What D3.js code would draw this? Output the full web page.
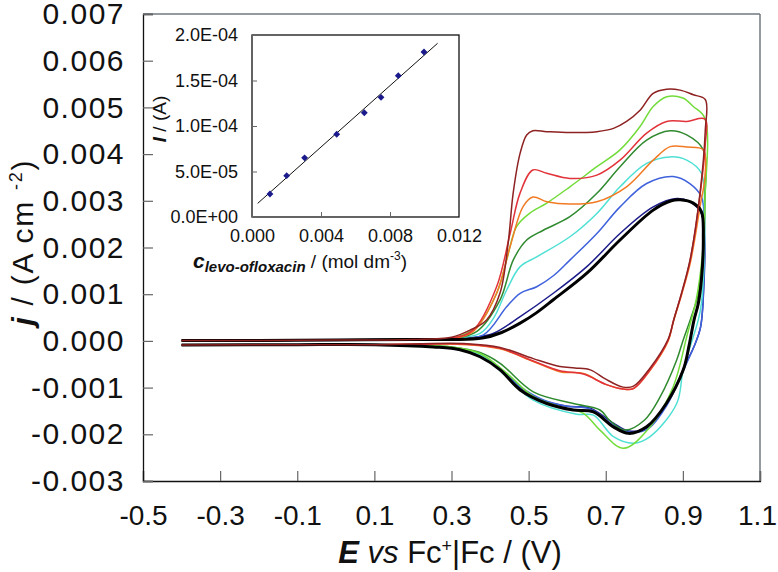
<!DOCTYPE html>
<html>
<head>
<meta charset="utf-8">
<script src="https://cdn.jsdelivr.net/npm/d3@7"></script>
<style>
  html, body { margin: 0; padding: 0; background: #fff; }
  svg text { font-family: "Liberation Sans", Arial, Helvetica, sans-serif; }
</style>
</head>
<body>
<svg id="chart" width="778" height="572"></svg>
<script>
// ---------------- DATA ----------------
const xTicks = [-0.5, -0.3, -0.1, 0.1, 0.3, 0.5, 0.7, 0.9, 1.1];
const xTickLabels = ["-0.5", "-0.3", "-0.1", "0.1", "0.3", "0.5", "0.7", "0.9", "1.1"];
const yTicks = [-0.003, -0.002, -0.001, 0.000, 0.001, 0.002, 0.003, 0.004, 0.005, 0.006, 0.007];
const yTickLabels = ["-0.003", "-0.002", "-0.001", "0.000", "0.001", "0.002", "0.003", "0.004", "0.005", "0.006", "0.007"];

const seriesNames  = ["blank", "c1", "c2", "c3", "c4", "c5", "c6", "c7", "c8"];
const seriesColors = ["#000000", "#1c1c8a", "#3f62dc", "#4fe0d4", "#2f8a2f", "#72dc3a", "#f27a22", "#e2333a", "#8e2222"];

// common low-potential part (forward start / reverse end)
const baseForward = [[-0.4, 0.00001], [-0.2, 0.00001], [0.0, 0.00002], [0.2, 0.00003]];
const baseReverse = [[0.1, -0.00008], [-0.1, -0.00008], [-0.4, -0.00009]];

const fwdBlank = [[0.3,0.00003],[0.38,0.00006],[0.43,0.00018],[0.478,0.00038],[0.52,0.0006],[0.564,0.00088],[0.651,0.00145],[0.737,0.00216],[0.823,0.0028],[0.87,0.003],[0.893,0.00302],[0.927,0.00295],[0.948,0.00277]];
const revBlank = [[0.953,0.0022],[0.948,0.0013],[0.94,0.0008],[0.929,0.00045],[0.916,-0.0001],[0.901,-0.00062],[0.857,-0.00134],[0.806,-0.00184],[0.759,-0.00198],[0.72,-0.00184],[0.668,-0.00152],[0.616,-0.00148],[0.547,-0.00134],[0.478,-0.00105],[0.426,-0.00062],[0.374,-0.00034],[0.322,-0.00019],[0.253,-0.00013]];

const fwdC1 = [[0.3,0.00004],[0.36,0.00008],[0.408,0.00016],[0.478,0.00052],[0.564,0.00102],[0.651,0.00159],[0.737,0.0023],[0.823,0.00287],[0.884,0.00305],[0.918,0.00298],[0.948,0.00273]];
const revC1 = [[0.956,0.0022],[0.954,0.0011],[0.946,0.0003],[0.93,-0.0001],[0.91,-0.00045],[0.857,-0.00137],[0.81,-0.00185],[0.76,-0.00193],[0.72,-0.00176],[0.66,-0.00144],[0.6,-0.0014],[0.54,-0.00128],[0.478,-0.001],[0.426,-0.0006],[0.374,-0.00032],[0.3,-0.00016],[0.22,-0.00011]];

const fwdC2 = [[0.3,0.00004],[0.383,0.00013],[0.443,0.00073],[0.478,0.00102],[0.521,0.00116],[0.565,0.0014],[0.607,0.00173],[0.677,0.0023],[0.737,0.00287],[0.806,0.00337],[0.875,0.00352],[0.918,0.00337],[0.948,0.00309]];
const revC2 = [[0.956,0.0024],[0.954,0.0012],[0.946,0.0003],[0.93,-0.0001],[0.91,-0.00047],[0.857,-0.0014],[0.81,-0.00188],[0.765,-0.00196],[0.72,-0.0018],[0.66,-0.00146],[0.6,-0.0014],[0.54,-0.00127],[0.478,-0.00098],[0.426,-0.00058],[0.374,-0.0003],[0.3,-0.00016],[0.22,-0.00011]];

const fwdC3 = [[0.3,0.00005],[0.374,0.00016],[0.41,0.0005],[0.443,0.00109],[0.478,0.00159],[0.521,0.0018],[0.607,0.00223],[0.677,0.00273],[0.737,0.0033],[0.806,0.0038],[0.867,0.00394],[0.91,0.00387],[0.948,0.00359]];
const revC3 = [[0.956,0.0028],[0.954,0.0015],[0.948,0.0008],[0.94,0.00045],[0.901,-0.00062],[0.884,-0.00134],[0.815,-0.00205],[0.772,-0.00219],[0.72,-0.00205],[0.668,-0.00159],[0.625,-0.00157],[0.512,-0.00127],[0.443,-0.00077],[0.374,-0.0003],[0.3,-0.00015],[0.22,-0.00011]];

const fwdC4 = [[0.3,0.00005],[0.365,0.0002],[0.426,0.00088],[0.46,0.00173],[0.495,0.00216],[0.538,0.00237],[0.607,0.00266],[0.677,0.00316],[0.737,0.00373],[0.806,0.0043],[0.867,0.0045],[0.91,0.00441],[0.953,0.00409]];
const revC4 = [[0.957,0.003],[0.952,0.0018],[0.94,0.001],[0.919,0.00045],[0.9,0.0],[0.884,-0.00041],[0.841,-0.0012],[0.8,-0.0017],[0.75,-0.00191],[0.71,-0.0017],[0.685,-0.00148],[0.616,-0.00134],[0.512,-0.00109],[0.426,-0.00048],[0.374,-0.00025],[0.3,-0.00013],[0.22,-0.0001]];

const fwdC5 = [[0.3,0.00005],[0.365,0.0003],[0.417,0.00102],[0.443,0.00173],[0.469,0.00245],[0.504,0.00274],[0.547,0.00295],[0.607,0.0033],[0.677,0.00373],[0.737,0.00409],[0.789,0.00459],[0.823,0.00502],[0.858,0.00523],[0.9,0.0052],[0.927,0.00502],[0.957,0.00477]];
const revC5 = [[0.957,0.003],[0.95,0.0018],[0.935,0.0009],[0.91,0.00009],[0.875,-0.00098],[0.815,-0.00184],[0.746,-0.0023],[0.685,-0.00191],[0.642,-0.00155],[0.581,-0.00141],[0.512,-0.00119],[0.443,-0.00069],[0.374,-0.00027],[0.3,-0.00013],[0.22,-0.0001]];

const fwdC6 = [[0.3,0.00005],[0.356,0.0002],[0.417,0.00102],[0.452,0.00202],[0.486,0.00288],[0.511,0.00308],[0.547,0.00298],[0.607,0.00293],[0.677,0.00298],[0.754,0.0033],[0.823,0.00387],[0.867,0.00416],[0.91,0.00415],[0.953,0.00409]];
const revC6 = [[0.957,0.0035],[0.945,0.0029],[0.92,0.0017],[0.897,0.001],[0.876,0.00043],[0.862,0.0],[0.815,-0.00063],[0.772,-0.00102],[0.745,-0.00103],[0.7,-0.00093],[0.642,-0.0007],[0.581,-0.00066],[0.512,-0.00044],[0.426,-0.00017],[0.34,-0.00008],[0.22,-0.00007]];

const fwdC7 = [[0.3,0.00006],[0.356,0.00023],[0.417,0.00116],[0.452,0.0023],[0.478,0.00317],[0.511,0.00366],[0.547,0.00359],[0.607,0.00348],[0.677,0.00355],[0.737,0.00387],[0.806,0.00445],[0.858,0.0047],[0.91,0.0047],[0.957,0.00475]];
const revC7 = [[0.958,0.0042],[0.945,0.00316],[0.919,0.00173],[0.897,0.00102],[0.876,0.00045],[0.862,0.00002],[0.815,-0.00062],[0.772,-0.00102],[0.745,-0.00103],[0.7,-0.00093],[0.642,-0.00071],[0.581,-0.00064],[0.512,-0.00043],[0.426,-0.00016],[0.34,-0.00007],[0.22,-0.00007]];

const fwdC8 = [[0.3,0.00008],[0.348,0.00023],[0.391,0.00045],[0.426,0.00103],[0.447,0.0021],[0.46,0.00317],[0.478,0.00402],[0.495,0.00441],[0.511,0.0045],[0.547,0.00448],[0.607,0.00446],[0.677,0.00448],[0.72,0.00455],[0.754,0.0047],[0.789,0.00494],[0.823,0.0053],[0.858,0.00539],[0.893,0.00537],[0.927,0.00527],[0.958,0.00517]];
const revC8 = [[0.958,0.0045],[0.945,0.0032],[0.919,0.00175],[0.897,0.00104],[0.877,0.00047],[0.862,0.00004],[0.815,-0.00058],[0.772,-0.00097],[0.745,-0.00099],[0.7,-0.00082],[0.66,-0.00062],[0.62,-0.00058],[0.581,-0.00055],[0.512,-0.00038],[0.426,-0.00014],[0.34,-0.00006],[0.22,-0.00006]];

const forwardScans = [fwdBlank, fwdC1, fwdC2, fwdC3, fwdC4, fwdC5, fwdC6, fwdC7, fwdC8];
const reverseScans = [revBlank, revC1, revC2, revC3, revC4, revC5, revC6, revC7, revC8];

// inset calibration
const insetXTicks = [0, 0.004, 0.008, 0.012];
const insetXTickLabels = ["0.000", "0.004", "0.008", "0.012"];
const insetYTicks = [0, 5e-5, 1e-4, 1.5e-4, 2e-4];
const insetYTickLabels = ["0.0E+00", "5.0E-05", "1.0E-04", "1.5E-04", "2.0E-04"];
const concentrations = [0.00104, 0.00201, 0.00305, 0.00491, 0.00651, 0.00748, 0.00848, 0.00997];
const peakCurrents   = [2.53e-5, 4.54e-5, 6.5e-5, 9.09e-5, 1.146e-4, 1.315e-4, 1.553e-4, 1.813e-4];
const fitX = [0.00033, 0.01076];
const fitY = [1.5e-5, 1.909e-4];

// ---------------- DRAW ----------------
const svg = d3.select("#chart");
const M = {left: 143, top: 14, right: 760, bottom: 481};

const x = d3.scaleLinear().domain([-0.5, 1.1]).range([M.left, M.right]);
const y = d3.scaleLinear().domain([-0.003, 0.007]).range([M.bottom, M.top]);

// frame
svg.append("line").attr("x1", M.left).attr("x2", M.right).attr("y1", M.top).attr("y2", M.top)
  .attr("stroke", "#6f7880").attr("stroke-width", 1.5);
svg.append("line").attr("x1", M.right).attr("x2", M.right).attr("y1", M.top).attr("y2", M.bottom)
  .attr("stroke", "#6f7880").attr("stroke-width", 1.5);

const xAxis = d3.axisBottom(x).tickValues(xTicks).tickSize(-10).tickPadding(24)
  .tickFormat((d, i) => xTickLabels[i]);
const yAxis = d3.axisLeft(y).tickValues(yTicks).tickSize(-10).tickPadding(18)
  .tickFormat((d, i) => yTickLabels[i]);

const gx = svg.append("g").attr("transform", `translate(0,${M.bottom})`).call(xAxis);
const gy = svg.append("g").attr("transform", `translate(${M.left},0)`).call(yAxis);
[gx, gy].forEach(g => {
  g.select(".domain").attr("stroke", "#111").attr("stroke-width", 1.3);
  g.selectAll(".tick line").attr("stroke", "#666").attr("stroke-width", 1.2);
  g.selectAll(".tick text").attr("fill", "#111")
    .style("font-family", "'Liberation Sans', Arial, sans-serif");
});
gy.selectAll(".tick text").style("font-size", "30px").style("letter-spacing", "1.5px");
gx.selectAll(".tick text").style("font-size", "28px")
  .attr("dx", (d, i) => i === xTicks.length - 1 ? -3 : 0);

// curves
const line = d3.line().x(d => x(d[0])).y(d => y(d[1])).curve(d3.curveCatmullRom.alpha(0.5));
const drawOrder = [1, 2, 3, 4, 5, 6, 7, 0, 8];
drawOrder.forEach(i => {
  const pts = baseForward.concat(forwardScans[i], reverseScans[i], baseReverse);
  svg.append("path").datum(pts)
    .attr("d", line)
    .attr("fill", "none")
    .attr("stroke", seriesColors[i])
    .attr("stroke-width", i === 0 ? 3 : 1.5)
    .attr("stroke-linejoin", "round");
});

// axis titles
const xt = svg.append("text").attr("x", 450).attr("y", 563).attr("text-anchor", "middle")
  .style("font-size", "31px").attr("fill", "#111");
xt.append("tspan").text("E").style("font-weight", "bold").style("font-style", "italic");
xt.append("tspan").text(" vs").style("font-style", "italic");
xt.append("tspan").text(" Fc");
xt.append("tspan").text("+").attr("dy", -11).style("font-size", "18px");
xt.append("tspan").text("|Fc / (V)").attr("dy", 11);

const yt = svg.append("text").attr("transform", "translate(33,243) rotate(-90)").attr("text-anchor", "middle")
  .attr("textLength", 165).attr("lengthAdjust", "spacing")
  .style("font-size", "30px").attr("fill", "#111");
yt.append("tspan").text("j").style("font-weight", "bold").style("font-style", "italic");
yt.append("tspan").text(" /  (A cm ");
yt.append("tspan").text("-2").attr("dy", -11).style("font-size", "18px");
yt.append("tspan").text(")").attr("dy", 11);

// ---------------- INSET ----------------
const I = {left: 252, top: 35, right: 459, bottom: 217};
const ix = d3.scaleLinear().domain([0, 0.012]).range([I.left, I.right]);
const iy = d3.scaleLinear().domain([0, 2e-4]).range([I.bottom, I.top]);

svg.append("rect").attr("x", I.left).attr("y", I.top).attr("width", I.right - I.left).attr("height", I.bottom - I.top)
  .attr("fill", "#fff").attr("stroke", "#111").attr("stroke-width", 1.3);

const ixAxis = d3.axisBottom(ix).tickValues(insetXTicks).tickSize(-5).tickPadding(12)
  .tickFormat((d, i) => insetXTickLabels[i]);
const iyAxis = d3.axisLeft(iy).tickValues(insetYTicks).tickSize(-5).tickPadding(14)
  .tickFormat((d, i) => insetYTickLabels[i]);
const gix = svg.append("g").attr("transform", `translate(0,${I.bottom})`).call(ixAxis);
const giy = svg.append("g").attr("transform", `translate(${I.left},0)`).call(iyAxis);
[gix, giy].forEach(g => {
  g.select(".domain").remove();
  g.selectAll(".tick line").attr("stroke", "#666");
  g.selectAll(".tick text").attr("fill", "#111").style("font-size", "18px")
    .style("font-family", "'Liberation Sans', Arial, sans-serif");
});

svg.append("line")
  .attr("x1", ix(fitX[0])).attr("y1", iy(fitY[0]))
  .attr("x2", ix(fitX[1])).attr("y2", iy(fitY[1]))
  .attr("stroke", "#111").attr("stroke-width", 1);

svg.append("g").selectAll("path").data(concentrations.map((c, i) => [c, peakCurrents[i]]))
  .join("path")
  .attr("transform", d => `translate(${ix(d[0])},${iy(d[1])})`)
  .attr("d", d3.symbol().type(d3.symbolDiamond2).size(30))
  .attr("fill", "#1a1a8c");

// inset titles
const iyt = svg.append("text").attr("transform", "translate(166,119) rotate(-90)").attr("text-anchor", "middle")
  .style("font-size", "19px").attr("fill", "#111");
iyt.append("tspan").text("I").style("font-weight", "bold").style("font-style", "italic");
iyt.append("tspan").text(" / (A)");

const ixt = svg.append("text").attr("x", 300).attr("y", 268).attr("text-anchor", "middle")
  .style("font-size", "19px").attr("fill", "#111");
ixt.append("tspan").text("c").style("font-weight", "bold").style("font-style", "italic").style("font-size", "21px");
ixt.append("tspan").text("levo-ofloxacin").attr("dy", 4).style("font-weight", "bold").style("font-style", "italic").style("font-size", "15px");
ixt.append("tspan").text(" / (mol dm").attr("dy", -4);
ixt.append("tspan").text("-3").attr("dy", -8).style("font-size", "12px");
ixt.append("tspan").text(")").attr("dy", 8);
</script>
</body>
</html>
